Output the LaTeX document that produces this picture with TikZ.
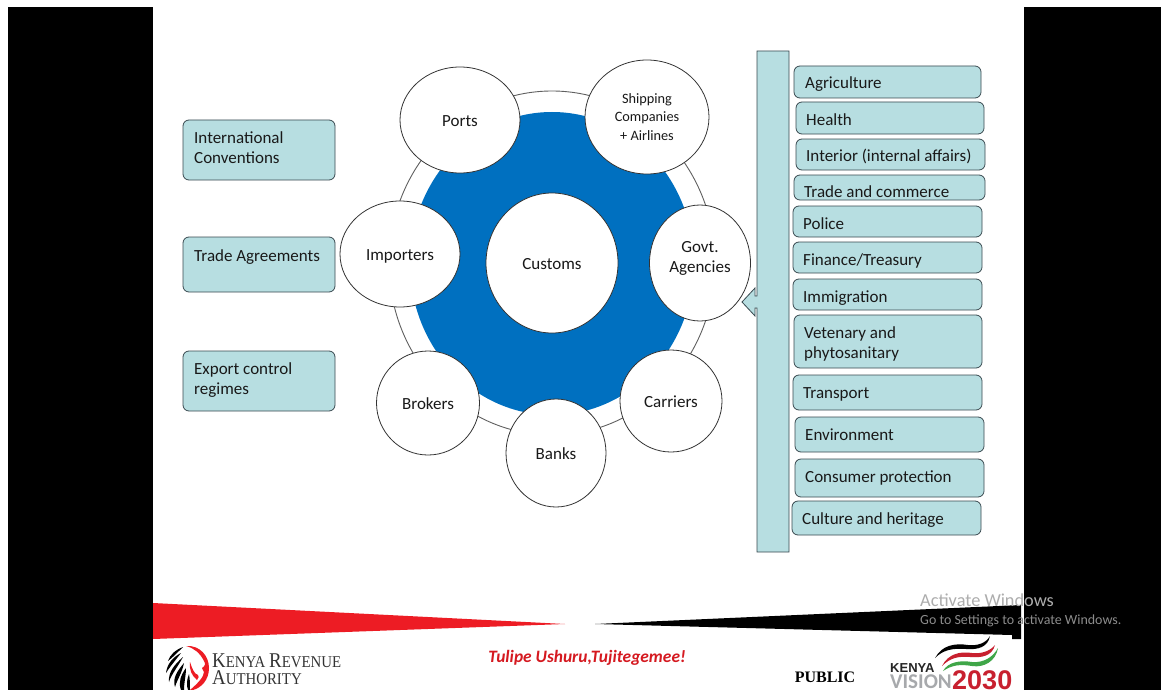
\documentclass[tikz,border=0pt]{standalone}
\usepackage{fontspec}
\setmainfont{Carlito}
\newfontfamily\serifb{Liberation Serif}
\newfontfamily\kraserif[FakeStretch=0.9]{Liberation Serif}
\newfontfamily\sansb{Liberation Sans}
\definecolor{paleteal}{HTML}{B7DEE1}
\definecolor{edgeteal}{HTML}{3A4A50}
\definecolor{discblue}{HTML}{0070C0}
\definecolor{ringline}{HTML}{606060}
\definecolor{krared}{HTML}{ED1C24}
\definecolor{visgray}{HTML}{A7A9AC}
\definecolor{visred}{HTML}{C8202F}
\definecolor{visgreen}{HTML}{3FA648}
\usetikzlibrary{shapes.geometric}
\tikzset{
  x=1pt,y=-1pt,
  every node/.style={font=\fontsize{17}{20}\selectfont,text=black!90},
  pill/.style={draw=edgeteal,fill=paleteal,rounded corners=6pt,line width=0.8pt},
  boxlabel/.style={anchor=west,align=left,inner sep=0pt},
  oneline/.style={text height=14pt,text depth=2pt},
  disk/.style={ellipse,draw=black!80,fill=white,line width=0.8pt,inner sep=0pt,align=center},
  brush/.style={line cap=round},
}
\begin{document}
\begin{tikzpicture}
\useasboundingbox (0,0) rectangle (1161,690);
\fill[white] (0,0) rectangle (1161,690);
\fill[black] (8,7) rectangle (153,690);
\fill[black] (1024,7) rectangle (1161,690);

% ring and disc
\node[ellipse,draw=ringline,fill=white,line width=0.9pt,minimum width=326pt,minimum height=344pt,inner sep=0pt] (ring) at (552,263) {};
\node[ellipse,fill=discblue,minimum width=284pt,minimum height=303pt,inner sep=0pt] (disc) at (552,263.5) {};

% circles
\node[disk,oneline,minimum width=132pt,minimum height=140pt] (customs) at (552,263) {Customs};
\node[disk,oneline,minimum width=120pt,minimum height=106pt] (ports) at (460,120) {Ports};
\node[disk,minimum width=124pt,minimum height=114pt,font=\fontsize{14.3}{18.5}\selectfont] (ship) at (647,117) {Shipping\\Companies\\+ Airlines};
\node[disk,minimum width=101pt,minimum height=116pt] (govt) at (700,263) {};
\node[align=center,inner sep=0pt] (govtlabel) at (700,258.5) {Govt.\\Agencies};
\node[disk,oneline,minimum width=102pt,minimum height=102pt] (carriers) at (671,401) {Carriers};
\node[disk,oneline,minimum width=100pt,minimum height=108pt] (banks) at (556,453) {Banks};
\node[disk,oneline,minimum width=103pt,minimum height=104pt] (brokers) at (428,403) {Brokers};
\node[disk,oneline,minimum width=120pt,minimum height=106pt] (importers) at (400,254) {Importers};

% left boxes
\draw[pill] (183,120) rectangle (335,180);
\node[boxlabel] (intl) at (194,148) {International\\Conventions};
\draw[pill] (183,237) rectangle (335,292);
\node[boxlabel,oneline] (trade) at (194,255) {Trade Agreements};
\draw[pill] (183,351) rectangle (335,411);
\node[boxlabel] (export) at (194,380.5) {Export control\\regimes};

% right callout bar
\draw[draw=edgeteal,fill=paleteal,line width=0.8pt]
  (757,51) -- (789,51) -- (789,552) -- (757,552) -- (757,308) -- (755,308) -- (755,316) -- (742,302) -- (755,288) -- (755,296) -- (757,296) -- cycle;

% right boxes
\draw[pill] (794,66) rectangle (981,98);
\node[boxlabel,oneline] (agri) at (805,83) {Agriculture};
\draw[pill] (796,102) rectangle (984,134);
\node[boxlabel,oneline] (health) at (806,119) {Health};
\draw[pill] (796,139) rectangle (985,170);
\node[boxlabel,oneline] (interior) at (806,155) {Interior (internal affairs)};
\draw[pill] (794,175) rectangle (985,200);
\node[boxlabel,oneline] (tradec) at (804,191) {Trade and commerce};
\draw[pill] (793,206) rectangle (982,237);
\node[boxlabel,oneline] (police) at (803,223) {Police};
\draw[pill] (793,242) rectangle (982,273);
\node[boxlabel,oneline] (finance) at (803,259) {Finance/Treasury};
\draw[pill] (793,279) rectangle (982,310);
\node[boxlabel,oneline] (immig) at (803,296) {Immigration};
\draw[pill] (794,315) rectangle (982,368);
\node[boxlabel] (vet) at (804,344) {Vetenary and\\phytosanitary};
\draw[pill] (793,375) rectangle (982,410);
\node[boxlabel,oneline] (transport) at (803,392) {Transport};
\draw[pill] (795,417) rectangle (984,452);
\node[boxlabel,oneline] (env) at (805,434) {Environment};
\draw[pill] (795,459) rectangle (984,497);
\node[boxlabel,oneline] (consumer) at (805,476) {Consumer protection};
\draw[pill] (792,501) rectangle (981,535);
\node[boxlabel,oneline] (culture) at (802,518) {Culture and heritage};

% footer wedges
\fill[krared] (153,603) -- (565,624) -- (153,639) -- cycle;
\fill[black] (595,624) -- (1021,605) -- (1021,639) -- (1012,639) -- (1012,635) -- cycle;

\node[anchor=center,font=\fontsize{17.4}{20}\selectfont\bfseries\itshape,text=krared!90!black] (motto) at (587,658) {Tulipe Ushuru,Tujitegemee!};
\node[anchor=center,font=\serifb\fontsize{16}{18}\selectfont\bfseries,text=black] (public) at (825,677) {PUBLIC};

% KRA lion mark
\fill[krared] (186,646) .. controls (200,645) and (209,656) .. (209,668) .. controls (209,680) and (201,688) .. (193,690) -- (190,690) .. controls (197,684) and (204,677) .. (204,672) -- (202,668) .. controls (205,666) and (206,664) .. (204,661) .. controls (200,653) and (194,648) .. (186,646) -- cycle;
\fill[krared] (190,662) .. controls (189,670) and (192,676) .. (197,680) .. controls (199,678) and (199,676) .. (198,675) .. controls (194,674) and (192,668) .. (190,662) -- cycle;
\fill[black] (183,647) .. controls (175,650) and (170,655) .. (168,661) .. controls (172,658) and (176,654) .. (183,647) -- cycle;
\fill[black] (181,653) .. controls (173,657) and (167,664) .. (166,673) .. controls (169,668) and (174,662) .. (181,653) -- cycle;
\fill[black] (183,657) .. controls (175,664) and (168,672) .. (169,682) .. controls (171,675) and (177,668) .. (183,657) -- cycle;
\fill[black] (184,663) .. controls (178,670) and (172,678) .. (175,687) .. controls (177,680) and (182,673) .. (184,663) -- cycle;
\fill[black] (186,668) .. controls (181,675) and (178,682) .. (181,690) -- (184,690) .. controls (184,682) and (186,676) .. (186,668) -- cycle;
\fill[black] (189,674) .. controls (187,679) and (186,685) .. (188,690) -- (190,690) .. controls (190,685) and (190,679) .. (189,674) -- cycle;
\node[anchor=base west,inner sep=0pt,font=\kraserif\fontsize{21}{18}\selectfont,text=black!80] (kra) at (212,667) {K\fontsize{16.5}{18}\selectfont ENYA \fontsize{21}{18}\selectfont R\fontsize{16.5}{18}\selectfont EVENUE};
\node[anchor=base west,inner sep=0pt,font=\kraserif\fontsize{21}{18}\selectfont,text=black!80] (auth) at (212,684) {A\fontsize{16.5}{18}\selectfont UTHORITY};

% Vision 2030 mark
\fill[black,brush] (935,658) .. controls (942,645) and (955,643) .. (968,645) .. controls (978,646) and (986,643) .. (990,636) .. controls (988,647) and (978,650) .. (966,649) .. controls (952,648) and (943,650) .. (935,658) -- cycle;
\fill[visred,brush] (942,666) .. controls (948,654) and (960,651) .. (972,653) .. controls (982,654) and (990,651) .. (995,645) .. controls (992,656) and (982,658) .. (970,657) .. controls (958,656) and (950,658) .. (942,666) -- cycle;
\fill[visgreen,brush] (943,671) .. controls (948,662) and (960,660) .. (972,662) .. controls (984,663) and (993,657) .. (998,648) .. controls (996,661) and (984,668) .. (972,666) .. controls (960,664) and (952,665) .. (943,671) -- cycle;
\node[anchor=base west,inner sep=0pt,font=\sansb\fontsize{13}{14}\selectfont\bfseries,text=black!85] (kenya) at (890,672) {KENYA};
\node[anchor=base west,inner sep=0pt,font=\fontsize{21}{22}\selectfont\bfseries,text=visgray] (vision) at (890,688.5) {VISION};
\node[anchor=base west,inner sep=0pt,font=\sansb\fontsize{27}{27}\selectfont\bfseries,text=visred] (y2030) at (952,689) {2030};

% watermark
\node[anchor=west,inner sep=0pt,font=\fontsize{18.3}{20}\selectfont,text=black!32] (act) at (920,600) {Activate Windows};
\node[anchor=west,inner sep=0pt,font=\fontsize{13.95}{16}\selectfont,text=black!45] (goto) at (920,621) {Go to Settings to activate Windows.};
\end{tikzpicture}
\end{document}
